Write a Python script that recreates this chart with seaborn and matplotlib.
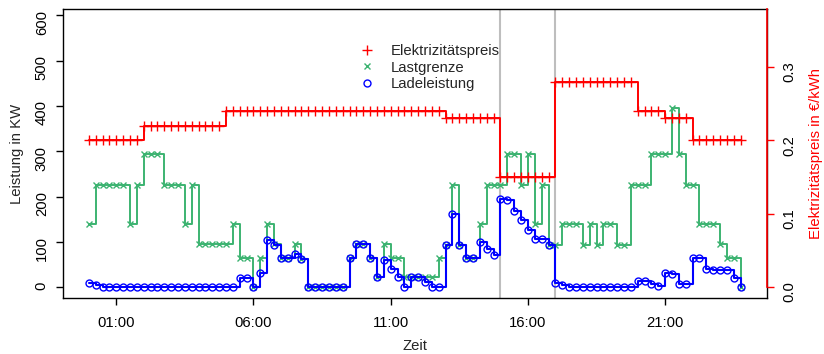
import numpy as np
import pandas as pd
import seaborn as sns
from matplotlib import pyplot as plt
from matplotlib.lines import Line2D

# 15-minute time slots over one day (hours)
slots = np.arange(96) / 4
tick_hours = [1, 6, 11, 16, 21]
tick_labels = ["01:00", "06:00", "11:00", "16:00", "21:00"]
marker_hours = [15, 17]

# electricity price in EUR/kWh
preis = ([0.20] * 8 + [0.22] * 12 + [0.24] * 32 + [0.23] * 8 + [0.15] * 8
         + [0.28] * 12 + [0.24] * 4 + [0.23] * 4 + [0.20] * 8)

# load limit in kW
lastgrenze = [140, 225, 225, 225, 225, 225, 140, 225,
              295, 295, 295, 225, 225, 225, 140, 225,
              95, 95, 95, 95, 95, 140, 65, 65,
              0, 65, 140, 95, 65, 65, 95, 62,
              0, 0, 0, 0, 0, 0, 65, 94,
              94, 65, 22, 94, 65, 65, 22, 22,
              22, 22, 22, 65, 93, 225, 93, 65,
              65, 140, 225, 225, 225, 295, 295, 225,
              295, 140, 225, 93, 93, 140, 140, 140,
              93, 140, 93, 140, 140, 93, 93, 225,
              225, 225, 295, 295, 295, 395, 295, 225,
              225, 140, 140, 140, 94, 65, 65, 0]

# charging power in kW
ladeleistung = [10, 5, 0, 0, 0, 0, 0, 0,
                0, 0, 0, 0, 0, 0, 0, 0,
                0, 0, 0, 0, 0, 0, 20, 20,
                0, 30, 105, 93, 65, 65, 72, 62,
                0, 0, 0, 0, 0, 0, 65, 94,
                94, 65, 22, 60, 39, 22, 0, 22,
                22, 12, 0, 0, 93, 162, 93, 65,
                65, 100, 85, 70, 194, 192, 167, 148,
                125, 107, 107, 93, 10, 4, 0, 0,
                0, 0, 0, 0, 0, 0, 0, 0,
                14, 14, 7, 3, 30, 28, 7, 7,
                65, 65, 40, 37, 37, 37, 21, 0]

df = pd.DataFrame({'Zeit': slots, 'Preis': preis,
                   'Lastgrenze': lastgrenze, 'Ladeleistung': ladeleistung})

sns.set_style('ticks')
plt.rcParams['font.family'] = ['Liberation Sans', 'DejaVu Sans']
plt.rcParams['font.size'] = 10.7

red = '#FF0000'
green = '#3CB371'
blue = '#0000FF'

fig = plt.figure(figsize=(8.24, 3.54), dpi=100)
ax = fig.add_axes([0.0761, 0.159, 0.8544, 0.8147])

for h in marker_hours:
    ax.axvline(h, color='#BEBEBE', lw=1.5, zorder=0)

sns.lineplot(data=df, x='Zeit', y='Lastgrenze', ax=ax, drawstyle='steps-post',
             color=green, lw=1.4, marker='x', ms=5, mew=1,
             markeredgecolor=green, zorder=2)
sns.lineplot(data=df, x='Zeit', y='Ladeleistung', ax=ax, drawstyle='steps-post',
             color=blue, lw=1.5, marker='o', ms=5, mew=1,
             markeredgecolor=blue, markerfacecolor='none', zorder=3)

ax.set_xlim(-0.95, 24.7)
ax.set_ylim(-23.6, 613.6)
ax.set_xticks(tick_hours)
ax.set_xticklabels(tick_labels)
ax.set_yticks(range(0, 700, 100))
ax.set_xlabel('Zeit', labelpad=7)
ax.set_ylabel('Leistung in KW', labelpad=8)
ax.tick_params(axis='both', length=5, width=1, color='black', labelcolor='black')
ax.tick_params(axis='x', pad=8)
ax.tick_params(axis='y', labelrotation=90, pad=5)
for s in ax.spines.values():
    s.set_color('black')
    s.set_linewidth(1)

ax2 = ax.twinx()
sns.lineplot(data=df, x='Zeit', y='Preis', ax=ax2, drawstyle='steps-post',
             color=red, lw=1.4, marker='+', ms=7, mew=1,
             markeredgecolor=red)
ax2.set_ylim(-0.0146, 0.3786)
ax2.set_yticks([0.0, 0.1, 0.2, 0.3])
ax2.set_yticklabels(['0.0', '0.1', '0.2', '0.3'])
ax2.set_ylabel('Elektrizitätspreis in €/kWh', color=red, labelpad=9)
ax2.tick_params(axis='y', length=5, width=1, colors=red, labelcolor='black',
                labelrotation=90, pad=6)
for side in ['left', 'top', 'bottom']:
    ax2.spines[side].set_visible(False)
ax2.spines['right'].set_color(red)
ax2.spines['right'].set_linewidth(1.2)
ax2.spines['right'].set_bounds(0, 0.3786)

handles = [Line2D([], [], ls='none', marker='+', ms=7, mew=1, color=red),
           Line2D([], [], ls='none', marker='x', ms=5, mew=1, color=green),
           Line2D([], [], ls='none', marker='o', ms=5, mew=1, color=blue,
                  markerfacecolor='none')]
ax2.legend(handles, ['Elektrizitätspreis', 'Lastgrenze', 'Ladeleistung'],
           loc='upper left', bbox_to_anchor=(0.422, 0.88), frameon=False,
           handlelength=1.0, handletextpad=1.1, labelspacing=0.18,
           borderaxespad=0, borderpad=0)

fig.savefig('out.png', dpi=100)
